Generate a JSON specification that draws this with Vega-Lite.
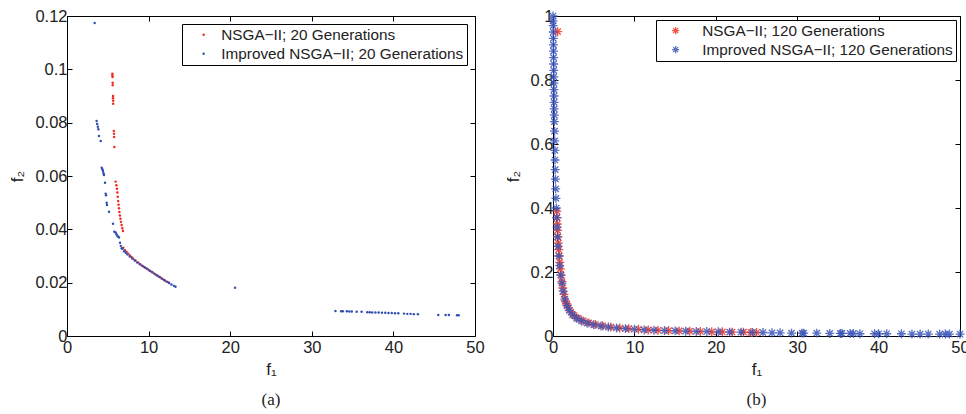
{
  "$schema": "https://vega.github.io/schema/vega-lite/v6.json",
  "background": "white",
  "padding": {"left": 8, "top": 7, "right": 4, "bottom": 3},
  "config": {
    "view": {"stroke": "#000", "strokeWidth": 1},
    "axis": {"grid": false, "labelFlush": false, "labelFont": "Liberation Sans", "labelFontSize": 16.5, "labelColor": "#222", "tickColor": "#000", "domain": false, "tickSize": -5, "labelPadding": 5, "titleFont": "Liberation Sans", "titleFontSize": 17, "titleFontWeight": "normal", "titleColor": "#222"},
    "axisX": {"labelPadding": 8},
    "legend": {"orient": "top-right", "offset": 6, "strokeColor": "#000", "fillColor": "white", "padding": 3, "labelFont": "Liberation Sans", "labelFontSize": 15.3, "labelColor": "#222", "title": null, "rowPadding": 3, "labelLimit": 400}
  },
  "datasets": {
    "a": [
      {"f1": 5.56, "f2": 0.0984, "s": "NSGA−II; 20 Generations"},
      {"f1": 5.57, "f2": 0.0978, "s": "NSGA−II; 20 Generations"},
      {"f1": 5.58, "f2": 0.0971, "s": "NSGA−II; 20 Generations"},
      {"f1": 5.6, "f2": 0.095, "s": "NSGA−II; 20 Generations"},
      {"f1": 5.6, "f2": 0.094, "s": "NSGA−II; 20 Generations"},
      {"f1": 5.64, "f2": 0.09, "s": "NSGA−II; 20 Generations"},
      {"f1": 5.64, "f2": 0.0892, "s": "NSGA−II; 20 Generations"},
      {"f1": 5.66, "f2": 0.0882, "s": "NSGA−II; 20 Generations"},
      {"f1": 5.66, "f2": 0.0871, "s": "NSGA−II; 20 Generations"},
      {"f1": 5.74, "f2": 0.0769, "s": "NSGA−II; 20 Generations"},
      {"f1": 5.76, "f2": 0.0758, "s": "NSGA−II; 20 Generations"},
      {"f1": 5.78, "f2": 0.0746, "s": "NSGA−II; 20 Generations"},
      {"f1": 5.8, "f2": 0.0709, "s": "NSGA−II; 20 Generations"},
      {"f1": 5.96, "f2": 0.0579, "s": "NSGA−II; 20 Generations"},
      {"f1": 6.05, "f2": 0.0565, "s": "NSGA−II; 20 Generations"},
      {"f1": 6.12, "f2": 0.0552, "s": "NSGA−II; 20 Generations"},
      {"f1": 6.17, "f2": 0.0538, "s": "NSGA−II; 20 Generations"},
      {"f1": 6.22, "f2": 0.0522, "s": "NSGA−II; 20 Generations"},
      {"f1": 6.27, "f2": 0.0506, "s": "NSGA−II; 20 Generations"},
      {"f1": 6.32, "f2": 0.0492, "s": "NSGA−II; 20 Generations"},
      {"f1": 6.37, "f2": 0.0479, "s": "NSGA−II; 20 Generations"},
      {"f1": 6.42, "f2": 0.0465, "s": "NSGA−II; 20 Generations"},
      {"f1": 6.48, "f2": 0.0452, "s": "NSGA−II; 20 Generations"},
      {"f1": 6.55, "f2": 0.044, "s": "NSGA−II; 20 Generations"},
      {"f1": 6.62, "f2": 0.0428, "s": "NSGA−II; 20 Generations"},
      {"f1": 6.7, "f2": 0.0416, "s": "NSGA−II; 20 Generations"},
      {"f1": 6.78, "f2": 0.0404, "s": "NSGA−II; 20 Generations"},
      {"f1": 6.86, "f2": 0.0394, "s": "NSGA−II; 20 Generations"},
      {"f1": 6.9, "f2": 0.0331, "s": "NSGA−II; 20 Generations"},
      {"f1": 7.1, "f2": 0.0322, "s": "NSGA−II; 20 Generations"},
      {"f1": 7.3, "f2": 0.0315, "s": "NSGA−II; 20 Generations"},
      {"f1": 7.5, "f2": 0.0309, "s": "NSGA−II; 20 Generations"},
      {"f1": 7.7, "f2": 0.0302, "s": "NSGA−II; 20 Generations"},
      {"f1": 7.9, "f2": 0.0296, "s": "NSGA−II; 20 Generations"},
      {"f1": 8.1, "f2": 0.029, "s": "NSGA−II; 20 Generations"},
      {"f1": 8.4, "f2": 0.0283, "s": "NSGA−II; 20 Generations"},
      {"f1": 8.7, "f2": 0.0276, "s": "NSGA−II; 20 Generations"},
      {"f1": 9.0, "f2": 0.0268, "s": "NSGA−II; 20 Generations"},
      {"f1": 9.3, "f2": 0.0262, "s": "NSGA−II; 20 Generations"},
      {"f1": 9.6, "f2": 0.0256, "s": "NSGA−II; 20 Generations"},
      {"f1": 9.9, "f2": 0.025, "s": "NSGA−II; 20 Generations"},
      {"f1": 10.2, "f2": 0.0244, "s": "NSGA−II; 20 Generations"},
      {"f1": 10.5, "f2": 0.0238, "s": "NSGA−II; 20 Generations"},
      {"f1": 10.8, "f2": 0.0232, "s": "NSGA−II; 20 Generations"},
      {"f1": 11.1, "f2": 0.0226, "s": "NSGA−II; 20 Generations"},
      {"f1": 11.4, "f2": 0.022, "s": "NSGA−II; 20 Generations"},
      {"f1": 11.7, "f2": 0.0214, "s": "NSGA−II; 20 Generations"},
      {"f1": 12.0, "f2": 0.0208, "s": "NSGA−II; 20 Generations"},
      {"f1": 12.3, "f2": 0.0203, "s": "NSGA−II; 20 Generations"},
      {"f1": 12.5, "f2": 0.02, "s": "NSGA−II; 20 Generations"},
      {"f1": 3.39, "f2": 0.1174, "s": "Improved NSGA−II; 20 Generations"},
      {"f1": 3.63, "f2": 0.0806, "s": "Improved NSGA−II; 20 Generations"},
      {"f1": 3.7, "f2": 0.0795, "s": "Improved NSGA−II; 20 Generations"},
      {"f1": 3.78, "f2": 0.0785, "s": "Improved NSGA−II; 20 Generations"},
      {"f1": 3.84, "f2": 0.0775, "s": "Improved NSGA−II; 20 Generations"},
      {"f1": 3.92, "f2": 0.075, "s": "Improved NSGA−II; 20 Generations"},
      {"f1": 4.13, "f2": 0.0731, "s": "Improved NSGA−II; 20 Generations"},
      {"f1": 4.25, "f2": 0.0631, "s": "Improved NSGA−II; 20 Generations"},
      {"f1": 4.33, "f2": 0.0625, "s": "Improved NSGA−II; 20 Generations"},
      {"f1": 4.41, "f2": 0.0619, "s": "Improved NSGA−II; 20 Generations"},
      {"f1": 4.47, "f2": 0.061, "s": "Improved NSGA−II; 20 Generations"},
      {"f1": 4.53, "f2": 0.0604, "s": "Improved NSGA−II; 20 Generations"},
      {"f1": 4.66, "f2": 0.0575, "s": "Improved NSGA−II; 20 Generations"},
      {"f1": 4.74, "f2": 0.0534, "s": "Improved NSGA−II; 20 Generations"},
      {"f1": 4.78, "f2": 0.0528, "s": "Improved NSGA−II; 20 Generations"},
      {"f1": 4.86, "f2": 0.05, "s": "Improved NSGA−II; 20 Generations"},
      {"f1": 4.9, "f2": 0.0491, "s": "Improved NSGA−II; 20 Generations"},
      {"f1": 5.15, "f2": 0.0466, "s": "Improved NSGA−II; 20 Generations"},
      {"f1": 5.64, "f2": 0.0421, "s": "Improved NSGA−II; 20 Generations"},
      {"f1": 5.8, "f2": 0.0391, "s": "Improved NSGA−II; 20 Generations"},
      {"f1": 5.96, "f2": 0.0388, "s": "Improved NSGA−II; 20 Generations"},
      {"f1": 6.06, "f2": 0.0382, "s": "Improved NSGA−II; 20 Generations"},
      {"f1": 6.17, "f2": 0.0375, "s": "Improved NSGA−II; 20 Generations"},
      {"f1": 6.3, "f2": 0.0372, "s": "Improved NSGA−II; 20 Generations"},
      {"f1": 6.37, "f2": 0.0369, "s": "Improved NSGA−II; 20 Generations"},
      {"f1": 6.5, "f2": 0.035, "s": "Improved NSGA−II; 20 Generations"},
      {"f1": 6.6, "f2": 0.0338, "s": "Improved NSGA−II; 20 Generations"},
      {"f1": 6.7, "f2": 0.0329, "s": "Improved NSGA−II; 20 Generations"},
      {"f1": 6.8, "f2": 0.0327, "s": "Improved NSGA−II; 20 Generations"},
      {"f1": 7.0, "f2": 0.0318, "s": "Improved NSGA−II; 20 Generations"},
      {"f1": 7.2, "f2": 0.0312, "s": "Improved NSGA−II; 20 Generations"},
      {"f1": 7.4, "f2": 0.0306, "s": "Improved NSGA−II; 20 Generations"},
      {"f1": 7.7, "f2": 0.0298, "s": "Improved NSGA−II; 20 Generations"},
      {"f1": 8.0, "f2": 0.0291, "s": "Improved NSGA−II; 20 Generations"},
      {"f1": 8.3, "f2": 0.0283, "s": "Improved NSGA−II; 20 Generations"},
      {"f1": 8.6, "f2": 0.0276, "s": "Improved NSGA−II; 20 Generations"},
      {"f1": 8.9, "f2": 0.027, "s": "Improved NSGA−II; 20 Generations"},
      {"f1": 9.2, "f2": 0.0264, "s": "Improved NSGA−II; 20 Generations"},
      {"f1": 9.5, "f2": 0.0258, "s": "Improved NSGA−II; 20 Generations"},
      {"f1": 9.8, "f2": 0.0252, "s": "Improved NSGA−II; 20 Generations"},
      {"f1": 10.1, "f2": 0.0246, "s": "Improved NSGA−II; 20 Generations"},
      {"f1": 10.4, "f2": 0.024, "s": "Improved NSGA−II; 20 Generations"},
      {"f1": 10.7, "f2": 0.0234, "s": "Improved NSGA−II; 20 Generations"},
      {"f1": 11.0, "f2": 0.0228, "s": "Improved NSGA−II; 20 Generations"},
      {"f1": 11.3, "f2": 0.0222, "s": "Improved NSGA−II; 20 Generations"},
      {"f1": 11.6, "f2": 0.0216, "s": "Improved NSGA−II; 20 Generations"},
      {"f1": 11.9, "f2": 0.021, "s": "Improved NSGA−II; 20 Generations"},
      {"f1": 12.2, "f2": 0.0204, "s": "Improved NSGA−II; 20 Generations"},
      {"f1": 12.5, "f2": 0.0199, "s": "Improved NSGA−II; 20 Generations"},
      {"f1": 12.8, "f2": 0.0193, "s": "Improved NSGA−II; 20 Generations"},
      {"f1": 13.1, "f2": 0.0188, "s": "Improved NSGA−II; 20 Generations"},
      {"f1": 13.3, "f2": 0.0185, "s": "Improved NSGA−II; 20 Generations"},
      {"f1": 20.6, "f2": 0.0181, "s": "Improved NSGA−II; 20 Generations"},
      {"f1": 32.9, "f2": 0.0094, "s": "Improved NSGA−II; 20 Generations"},
      {"f1": 33.6, "f2": 0.0093, "s": "Improved NSGA−II; 20 Generations"},
      {"f1": 33.8, "f2": 0.0093, "s": "Improved NSGA−II; 20 Generations"},
      {"f1": 34.3, "f2": 0.0093, "s": "Improved NSGA−II; 20 Generations"},
      {"f1": 34.6, "f2": 0.0092, "s": "Improved NSGA−II; 20 Generations"},
      {"f1": 34.9, "f2": 0.0092, "s": "Improved NSGA−II; 20 Generations"},
      {"f1": 35.5, "f2": 0.0091, "s": "Improved NSGA−II; 20 Generations"},
      {"f1": 36.1, "f2": 0.0091, "s": "Improved NSGA−II; 20 Generations"},
      {"f1": 36.8, "f2": 0.0089, "s": "Improved NSGA−II; 20 Generations"},
      {"f1": 37.1, "f2": 0.0089, "s": "Improved NSGA−II; 20 Generations"},
      {"f1": 37.4, "f2": 0.0088, "s": "Improved NSGA−II; 20 Generations"},
      {"f1": 37.8, "f2": 0.0088, "s": "Improved NSGA−II; 20 Generations"},
      {"f1": 38.2, "f2": 0.0088, "s": "Improved NSGA−II; 20 Generations"},
      {"f1": 38.6, "f2": 0.0087, "s": "Improved NSGA−II; 20 Generations"},
      {"f1": 39.0, "f2": 0.0087, "s": "Improved NSGA−II; 20 Generations"},
      {"f1": 39.4, "f2": 0.0086, "s": "Improved NSGA−II; 20 Generations"},
      {"f1": 39.8, "f2": 0.0086, "s": "Improved NSGA−II; 20 Generations"},
      {"f1": 40.2, "f2": 0.0085, "s": "Improved NSGA−II; 20 Generations"},
      {"f1": 40.6, "f2": 0.0085, "s": "Improved NSGA−II; 20 Generations"},
      {"f1": 41.3, "f2": 0.0084, "s": "Improved NSGA−II; 20 Generations"},
      {"f1": 41.7, "f2": 0.0083, "s": "Improved NSGA−II; 20 Generations"},
      {"f1": 42.1, "f2": 0.0083, "s": "Improved NSGA−II; 20 Generations"},
      {"f1": 42.5, "f2": 0.0082, "s": "Improved NSGA−II; 20 Generations"},
      {"f1": 43.0, "f2": 0.0082, "s": "Improved NSGA−II; 20 Generations"},
      {"f1": 45.5, "f2": 0.0079, "s": "Improved NSGA−II; 20 Generations"},
      {"f1": 46.4, "f2": 0.0079, "s": "Improved NSGA−II; 20 Generations"},
      {"f1": 46.8, "f2": 0.0079, "s": "Improved NSGA−II; 20 Generations"},
      {"f1": 47.8, "f2": 0.0078, "s": "Improved NSGA−II; 20 Generations"},
      {"f1": 48.0, "f2": 0.0078, "s": "Improved NSGA−II; 20 Generations"}
    ],
    "b": [
      {"f1": 0.57, "f2": 0.951, "s": "NSGA−II; 120 Generations"},
      {"f1": 0.48, "f2": 0.39, "s": "NSGA−II; 120 Generations"},
      {"f1": 0.5, "f2": 0.37, "s": "NSGA−II; 120 Generations"},
      {"f1": 0.53, "f2": 0.35, "s": "NSGA−II; 120 Generations"},
      {"f1": 0.56, "f2": 0.33, "s": "NSGA−II; 120 Generations"},
      {"f1": 0.6, "f2": 0.31, "s": "NSGA−II; 120 Generations"},
      {"f1": 0.65, "f2": 0.29, "s": "NSGA−II; 120 Generations"},
      {"f1": 0.7, "f2": 0.27, "s": "NSGA−II; 120 Generations"},
      {"f1": 0.76, "f2": 0.25, "s": "NSGA−II; 120 Generations"},
      {"f1": 0.83, "f2": 0.23, "s": "NSGA−II; 120 Generations"},
      {"f1": 0.9, "f2": 0.21, "s": "NSGA−II; 120 Generations"},
      {"f1": 1.0, "f2": 0.19, "s": "NSGA−II; 120 Generations"},
      {"f1": 1.1, "f2": 0.17, "s": "NSGA−II; 120 Generations"},
      {"f1": 1.2, "f2": 0.15, "s": "NSGA−II; 120 Generations"},
      {"f1": 1.35, "f2": 0.13, "s": "NSGA−II; 120 Generations"},
      {"f1": 1.5, "f2": 0.11, "s": "NSGA−II; 120 Generations"},
      {"f1": 1.7, "f2": 0.1, "s": "NSGA−II; 120 Generations"},
      {"f1": 1.9, "f2": 0.088, "s": "NSGA−II; 120 Generations"},
      {"f1": 2.2, "f2": 0.075, "s": "NSGA−II; 120 Generations"},
      {"f1": 2.6, "f2": 0.064, "s": "NSGA−II; 120 Generations"},
      {"f1": 3.1, "f2": 0.055, "s": "NSGA−II; 120 Generations"},
      {"f1": 3.7, "f2": 0.047, "s": "NSGA−II; 120 Generations"},
      {"f1": 4.4, "f2": 0.041, "s": "NSGA−II; 120 Generations"},
      {"f1": 5.2, "f2": 0.036, "s": "NSGA−II; 120 Generations"},
      {"f1": 6.1, "f2": 0.032, "s": "NSGA−II; 120 Generations"},
      {"f1": 7.1, "f2": 0.028, "s": "NSGA−II; 120 Generations"},
      {"f1": 8.2, "f2": 0.025, "s": "NSGA−II; 120 Generations"},
      {"f1": 9.3, "f2": 0.023, "s": "NSGA−II; 120 Generations"},
      {"f1": 10.5, "f2": 0.021, "s": "NSGA−II; 120 Generations"},
      {"f1": 11.7, "f2": 0.019, "s": "NSGA−II; 120 Generations"},
      {"f1": 12.9, "f2": 0.018, "s": "NSGA−II; 120 Generations"},
      {"f1": 14.2, "f2": 0.017, "s": "NSGA−II; 120 Generations"},
      {"f1": 15.5, "f2": 0.016, "s": "NSGA−II; 120 Generations"},
      {"f1": 16.8, "f2": 0.015, "s": "NSGA−II; 120 Generations"},
      {"f1": 18.1, "f2": 0.014, "s": "NSGA−II; 120 Generations"},
      {"f1": 19.5, "f2": 0.013, "s": "NSGA−II; 120 Generations"},
      {"f1": 20.8, "f2": 0.013, "s": "NSGA−II; 120 Generations"},
      {"f1": 22.0, "f2": 0.012, "s": "NSGA−II; 120 Generations"},
      {"f1": 23.4, "f2": 0.012, "s": "NSGA−II; 120 Generations"},
      {"f1": 24.3, "f2": 0.011, "s": "NSGA−II; 120 Generations"},
      {"f1": 25.0, "f2": 0.011, "s": "NSGA−II; 120 Generations"},
      {"f1": 0.0, "f2": 1.0, "s": "Improved NSGA−II; 120 Generations"},
      {"f1": 0.01, "f2": 0.985, "s": "Improved NSGA−II; 120 Generations"},
      {"f1": 0.02, "f2": 0.97, "s": "Improved NSGA−II; 120 Generations"},
      {"f1": 0.03, "f2": 0.95, "s": "Improved NSGA−II; 120 Generations"},
      {"f1": 0.04, "f2": 0.93, "s": "Improved NSGA−II; 120 Generations"},
      {"f1": 0.05, "f2": 0.91, "s": "Improved NSGA−II; 120 Generations"},
      {"f1": 0.06, "f2": 0.89, "s": "Improved NSGA−II; 120 Generations"},
      {"f1": 0.07, "f2": 0.87, "s": "Improved NSGA−II; 120 Generations"},
      {"f1": 0.08, "f2": 0.85, "s": "Improved NSGA−II; 120 Generations"},
      {"f1": 0.09, "f2": 0.83, "s": "Improved NSGA−II; 120 Generations"},
      {"f1": 0.1, "f2": 0.81, "s": "Improved NSGA−II; 120 Generations"},
      {"f1": 0.11, "f2": 0.79, "s": "Improved NSGA−II; 120 Generations"},
      {"f1": 0.12, "f2": 0.77, "s": "Improved NSGA−II; 120 Generations"},
      {"f1": 0.13, "f2": 0.75, "s": "Improved NSGA−II; 120 Generations"},
      {"f1": 0.14, "f2": 0.73, "s": "Improved NSGA−II; 120 Generations"},
      {"f1": 0.15, "f2": 0.71, "s": "Improved NSGA−II; 120 Generations"},
      {"f1": 0.16, "f2": 0.69, "s": "Improved NSGA−II; 120 Generations"},
      {"f1": 0.17, "f2": 0.67, "s": "Improved NSGA−II; 120 Generations"},
      {"f1": 0.19, "f2": 0.64, "s": "Improved NSGA−II; 120 Generations"},
      {"f1": 0.21, "f2": 0.61, "s": "Improved NSGA−II; 120 Generations"},
      {"f1": 0.23, "f2": 0.58, "s": "Improved NSGA−II; 120 Generations"},
      {"f1": 0.25, "f2": 0.55, "s": "Improved NSGA−II; 120 Generations"},
      {"f1": 0.27, "f2": 0.52, "s": "Improved NSGA−II; 120 Generations"},
      {"f1": 0.3, "f2": 0.49, "s": "Improved NSGA−II; 120 Generations"},
      {"f1": 0.33, "f2": 0.46, "s": "Improved NSGA−II; 120 Generations"},
      {"f1": 0.36, "f2": 0.43, "s": "Improved NSGA−II; 120 Generations"},
      {"f1": 0.4, "f2": 0.4, "s": "Improved NSGA−II; 120 Generations"},
      {"f1": 0.45, "f2": 0.37, "s": "Improved NSGA−II; 120 Generations"},
      {"f1": 0.5, "f2": 0.34, "s": "Improved NSGA−II; 120 Generations"},
      {"f1": 0.56, "f2": 0.31, "s": "Improved NSGA−II; 120 Generations"},
      {"f1": 0.63, "f2": 0.28, "s": "Improved NSGA−II; 120 Generations"},
      {"f1": 0.72, "f2": 0.25, "s": "Improved NSGA−II; 120 Generations"},
      {"f1": 0.82, "f2": 0.22, "s": "Improved NSGA−II; 120 Generations"},
      {"f1": 0.95, "f2": 0.19, "s": "Improved NSGA−II; 120 Generations"},
      {"f1": 1.1, "f2": 0.165, "s": "Improved NSGA−II; 120 Generations"},
      {"f1": 1.25, "f2": 0.14, "s": "Improved NSGA−II; 120 Generations"},
      {"f1": 1.45, "f2": 0.115, "s": "Improved NSGA−II; 120 Generations"},
      {"f1": 1.7, "f2": 0.095, "s": "Improved NSGA−II; 120 Generations"},
      {"f1": 2.0, "f2": 0.08, "s": "Improved NSGA−II; 120 Generations"},
      {"f1": 2.4, "f2": 0.066, "s": "Improved NSGA−II; 120 Generations"},
      {"f1": 2.9, "f2": 0.055, "s": "Improved NSGA−II; 120 Generations"},
      {"f1": 3.5, "f2": 0.047, "s": "Improved NSGA−II; 120 Generations"},
      {"f1": 4.2, "f2": 0.04, "s": "Improved NSGA−II; 120 Generations"},
      {"f1": 5.0, "f2": 0.035, "s": "Improved NSGA−II; 120 Generations"},
      {"f1": 5.9, "f2": 0.031, "s": "Improved NSGA−II; 120 Generations"},
      {"f1": 6.8, "f2": 0.028, "s": "Improved NSGA−II; 120 Generations"},
      {"f1": 7.8, "f2": 0.025, "s": "Improved NSGA−II; 120 Generations"},
      {"f1": 8.9, "f2": 0.023, "s": "Improved NSGA−II; 120 Generations"},
      {"f1": 10.0, "f2": 0.021, "s": "Improved NSGA−II; 120 Generations"},
      {"f1": 11.2, "f2": 0.019, "s": "Improved NSGA−II; 120 Generations"},
      {"f1": 12.4, "f2": 0.018, "s": "Improved NSGA−II; 120 Generations"},
      {"f1": 13.7, "f2": 0.017, "s": "Improved NSGA−II; 120 Generations"},
      {"f1": 15.0, "f2": 0.016, "s": "Improved NSGA−II; 120 Generations"},
      {"f1": 16.3, "f2": 0.015, "s": "Improved NSGA−II; 120 Generations"},
      {"f1": 17.6, "f2": 0.014, "s": "Improved NSGA−II; 120 Generations"},
      {"f1": 18.9, "f2": 0.014, "s": "Improved NSGA−II; 120 Generations"},
      {"f1": 20.3, "f2": 0.013, "s": "Improved NSGA−II; 120 Generations"},
      {"f1": 21.7, "f2": 0.012, "s": "Improved NSGA−II; 120 Generations"},
      {"f1": 23.1, "f2": 0.012, "s": "Improved NSGA−II; 120 Generations"},
      {"f1": 24.5, "f2": 0.011, "s": "Improved NSGA−II; 120 Generations"},
      {"f1": 25.8, "f2": 0.011, "s": "Improved NSGA−II; 120 Generations"},
      {"f1": 26.9, "f2": 0.01, "s": "Improved NSGA−II; 120 Generations"},
      {"f1": 27.9, "f2": 0.01, "s": "Improved NSGA−II; 120 Generations"},
      {"f1": 29.3, "f2": 0.009, "s": "Improved NSGA−II; 120 Generations"},
      {"f1": 30.6, "f2": 0.009, "s": "Improved NSGA−II; 120 Generations"},
      {"f1": 30.8, "f2": 0.009, "s": "Improved NSGA−II; 120 Generations"},
      {"f1": 32.4, "f2": 0.009, "s": "Improved NSGA−II; 120 Generations"},
      {"f1": 34.0, "f2": 0.008, "s": "Improved NSGA−II; 120 Generations"},
      {"f1": 35.3, "f2": 0.008, "s": "Improved NSGA−II; 120 Generations"},
      {"f1": 35.5, "f2": 0.008, "s": "Improved NSGA−II; 120 Generations"},
      {"f1": 36.5, "f2": 0.008, "s": "Improved NSGA−II; 120 Generations"},
      {"f1": 36.9, "f2": 0.008, "s": "Improved NSGA−II; 120 Generations"},
      {"f1": 37.7, "f2": 0.007, "s": "Improved NSGA−II; 120 Generations"},
      {"f1": 39.5, "f2": 0.007, "s": "Improved NSGA−II; 120 Generations"},
      {"f1": 40.0, "f2": 0.007, "s": "Improved NSGA−II; 120 Generations"},
      {"f1": 41.0, "f2": 0.007, "s": "Improved NSGA−II; 120 Generations"},
      {"f1": 42.8, "f2": 0.007, "s": "Improved NSGA−II; 120 Generations"},
      {"f1": 44.1, "f2": 0.006, "s": "Improved NSGA−II; 120 Generations"},
      {"f1": 45.1, "f2": 0.006, "s": "Improved NSGA−II; 120 Generations"},
      {"f1": 46.1, "f2": 0.006, "s": "Improved NSGA−II; 120 Generations"},
      {"f1": 47.5, "f2": 0.006, "s": "Improved NSGA−II; 120 Generations"},
      {"f1": 48.2, "f2": 0.006, "s": "Improved NSGA−II; 120 Generations"},
      {"f1": 48.7, "f2": 0.006, "s": "Improved NSGA−II; 120 Generations"},
      {"f1": 50.0, "f2": 0.006, "s": "Improved NSGA−II; 120 Generations"}
    ]
  },
  "resolve": {"scale": {"color": "independent"}, "legend": {"color": "independent"}},
  "spacing": 18,
  "hconcat": [
    {
      "width": 408,
      "height": 320,
      "data": {"name": "a"},
      "title": {"text": "(a)", "orient": "bottom", "font": "Liberation Serif", "fontSize": 17, "fontWeight": "normal", "color": "#222", "offset": 14},
      "layer": [
        {
          "mark": {"type": "point", "filled": true, "size": 6, "opacity": 1},
          "encoding": {
            "x": {"field": "f1", "type": "quantitative", "scale": {"domain": [0, 50], "nice": false}, "axis": {"values": [0, 10, 20, 30, 40, 50], "title": "f₁", "titlePadding": 6}},
            "y": {"field": "f2", "type": "quantitative", "scale": {"domain": [0, 0.12], "nice": false}, "axis": {"values": [0, 0.02, 0.04, 0.06, 0.08, 0.1, 0.12], "format": ".2~f", "title": "f₂", "titlePadding": 8}},
            "color": {"field": "s", "type": "nominal", "sort": null, "scale": {"domain": ["NSGA−II; 20 Generations", "Improved NSGA−II; 20 Generations"], "range": ["#f0281c", "#2f4db2"]}, "legend": {"symbolType": "circle", "symbolSize": 6, "symbolOffset": 11, "labelOffset": 10, "offset": 8}}
          }
        },
        {
          "mark": {"type": "point", "opacity": 0},
          "encoding": {
            "x": {"field": "f1", "type": "quantitative", "scale": {"domain": [0, 50], "nice": false}, "axis": {"orient": "top", "values": [0, 10, 20, 30, 40, 50], "labels": false, "title": null}},
            "y": {"field": "f2", "type": "quantitative", "scale": {"domain": [0, 0.12], "nice": false}, "axis": {"orient": "right", "values": [0, 0.02, 0.04, 0.06, 0.08, 0.1, 0.12], "labels": false, "title": null}}
          }
        }
      ],
      "resolve": {"axis": {"x": "independent", "y": "independent"}}
    },
    {
      "width": 407,
      "height": 320,
      "data": {"name": "b"},
      "title": {"text": "(b)", "orient": "bottom", "font": "Liberation Serif", "fontSize": 17, "fontWeight": "normal", "color": "#222", "offset": 14},
      "layer": [
        {
          "mark": {"type": "point", "filled": false, "shape": "M-1,0H1M0,-1V1M-0.7,-0.7L0.7,0.7M-0.7,0.7L0.7,-0.7", "size": 80, "strokeWidth": 1.3, "opacity": 0.85},
          "encoding": {
            "x": {"field": "f1", "type": "quantitative", "scale": {"domain": [0, 50], "nice": false}, "axis": {"values": [0, 10, 20, 30, 40, 50], "title": "f₁", "titlePadding": 6}},
            "y": {"field": "f2", "type": "quantitative", "scale": {"domain": [0, 1], "nice": false}, "axis": {"values": [0, 0.2, 0.4, 0.6, 0.8, 1], "format": ".1~f", "title": "f₂", "titlePadding": 8}},
            "color": {"field": "s", "type": "nominal", "sort": null, "scale": {"domain": ["NSGA−II; 120 Generations", "Improved NSGA−II; 120 Generations"], "range": ["#f5301e", "#3a55b8"]}, "legend": {"symbolType": "M-1,0H1M0,-1V1M-0.7,-0.7L0.7,0.7M-0.7,0.7L0.7,-0.7", "symbolSize": 50, "symbolStrokeWidth": 1.2, "symbolOffset": 9, "labelOffset": 19, "offset": 4}}
          }
        },
        {
          "mark": {"type": "point", "opacity": 0},
          "encoding": {
            "x": {"field": "f1", "type": "quantitative", "scale": {"domain": [0, 50], "nice": false}, "axis": {"orient": "top", "values": [0, 10, 20, 30, 40, 50], "labels": false, "title": null}},
            "y": {"field": "f2", "type": "quantitative", "scale": {"domain": [0, 1], "nice": false}, "axis": {"orient": "right", "values": [0, 0.2, 0.4, 0.6, 0.8, 1], "labels": false, "title": null}}
          }
        }
      ],
      "resolve": {"axis": {"x": "independent", "y": "independent"}}
    }
  ]
}
